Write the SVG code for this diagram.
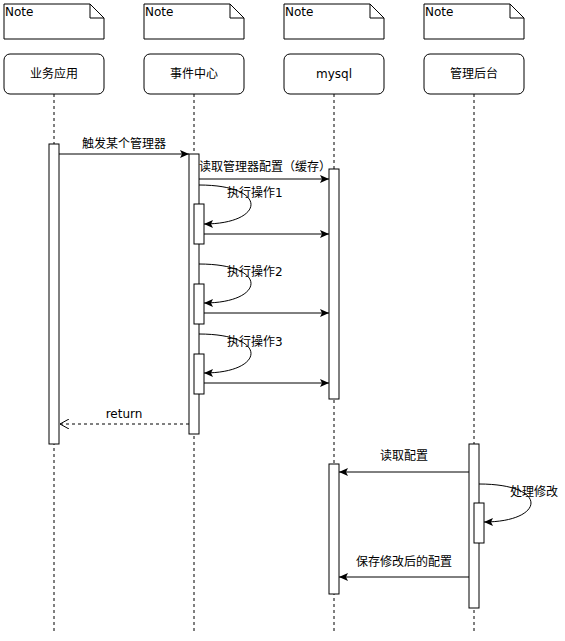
<svg xmlns="http://www.w3.org/2000/svg" width="565" height="641" viewBox="0 0 565 641">
<style>
.box{fill:#fff;stroke:#000;stroke-width:1}
.life{stroke:#000;stroke-width:1;stroke-dasharray:3 3;fill:none}
.msg{stroke:#000;stroke-width:1;fill:none}
.t{font-family:"DejaVu Sans","Noto Sans CJK SC",sans-serif;font-size:12px;fill:#000}
.c{text-anchor:middle}
</style>
<defs>
<marker id="ar" markerWidth="10" markerHeight="8" refX="9" refY="4" orient="auto" markerUnits="userSpaceOnUse">
<path d="M0,0 L9,4 L0,8 L2,4 Z" fill="#000"/>
</marker>
<marker id="op" markerWidth="10" markerHeight="10" refX="9" refY="5" orient="auto" markerUnits="userSpaceOnUse">
<path d="M0,0 L9,5 L0,10" fill="none" stroke="#000"/>
</marker>
</defs>
<rect width="565" height="641" fill="#fff"/>
<g id="notes">
<g id="note1"><path class="box" d="M4,4 H90 L104,18 V39 H4 Z"/><path class="msg" d="M90,4 V18 H104"/><text class="t" x="5" y="16">Note</text></g>
<g id="note2"><path class="box" d="M144,4 H230 L244,18 V39 H144 Z"/><path class="msg" d="M230,4 V18 H244"/><text class="t" x="145" y="16">Note</text></g>
<g id="note3"><path class="box" d="M284,4 H370 L384,18 V39 H284 Z"/><path class="msg" d="M370,4 V18 H384"/><text class="t" x="285" y="16">Note</text></g>
<g id="note4"><path class="box" d="M424,4 H510 L524,18 V39 H424 Z"/><path class="msg" d="M510,4 V18 H524"/><text class="t" x="425" y="16">Note</text></g>
</g>
<g id="lifeline-yewu">
<line class="life" x1="54" y1="94" x2="54" y2="632"/>
<rect class="box" x="4" y="54" width="100" height="40" rx="6"/>
<text class="t c" x="54" y="78">业务应用</text>
<rect class="box" x="49" y="144" width="10" height="300"/>
</g>
<g id="lifeline-shijian">
<line class="life" x1="194" y1="94" x2="194" y2="632"/>
<rect class="box" x="144" y="54" width="100" height="40" rx="6"/>
<text class="t c" x="194" y="78">事件中心</text>
<rect class="box" x="189" y="154" width="10" height="280"/>
<rect class="box" x="194" y="204" width="10" height="40"/>
<rect class="box" x="194" y="284" width="10" height="40"/>
<rect class="box" x="194" y="354" width="10" height="40"/>
</g>
<g id="lifeline-mysql">
<line class="life" x1="334" y1="94" x2="334" y2="632"/>
<rect class="box" x="284" y="54" width="100" height="40" rx="6"/>
<text class="t c" x="334" y="78">mysql</text>
<rect class="box" x="329" y="169" width="10" height="230"/>
<rect class="box" x="329" y="464" width="10" height="130"/>
</g>
<g id="lifeline-guanli">
<line class="life" x1="474" y1="94" x2="474" y2="632"/>
<rect class="box" x="424" y="54" width="100" height="40" rx="6"/>
<text class="t c" x="474" y="78">管理后台</text>
<rect class="box" x="469" y="444" width="10" height="164"/>
<rect class="box" x="474" y="503" width="10" height="40"/>
</g>
<g id="connectors">
<line class="msg" x1="59" y1="154" x2="189" y2="154" marker-end="url(#ar)"/>
<text class="t c" x="124" y="148">触发某个管理器</text>
<line class="msg" x1="199" y1="179" x2="329" y2="179" marker-end="url(#ar)"/>
<text class="t" x="199" y="171">读取管理器配置（缓存）</text>
<path class="msg" d="M199,185 C270,185 265,224 204,224" marker-end="url(#ar)"/>
<text class="t" x="227" y="197">执行操作1</text>
<line class="msg" x1="204" y1="234" x2="329" y2="234" marker-end="url(#ar)"/>
<path class="msg" d="M199,264 C270,264 265,303 204,303" marker-end="url(#ar)"/>
<text class="t" x="227" y="276">执行操作2</text>
<line class="msg" x1="204" y1="313" x2="329" y2="313" marker-end="url(#ar)"/>
<path class="msg" d="M199,334 C270,334 265,373 204,373" marker-end="url(#ar)"/>
<text class="t" x="227" y="346">执行操作3</text>
<line class="msg" x1="204" y1="383" x2="329" y2="383" marker-end="url(#ar)"/>
<line class="msg" x1="189" y1="424" x2="60" y2="424" stroke-dasharray="3 3" marker-end="url(#op)"/>
<text class="t c" x="124" y="418">return</text>
<line class="msg" x1="469" y1="472" x2="339" y2="472" marker-end="url(#ar)"/>
<text class="t c" x="404" y="460">读取配置</text>
<path class="msg" d="M479,484 C550,484 545,522 484,522" marker-end="url(#ar)"/>
<text class="t" x="510" y="496">处理修改</text>
<line class="msg" x1="469" y1="577" x2="339" y2="577" marker-end="url(#ar)"/>
<text class="t c" x="404" y="566">保存修改后的配置</text>
</g>
</svg>
